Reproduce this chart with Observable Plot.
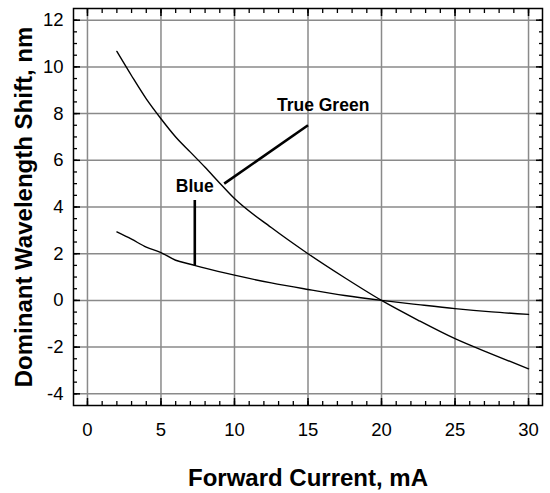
<!DOCTYPE html>
<html>
<head>
<meta charset="utf-8">
<script src="https://cdn.jsdelivr.net/npm/d3@7"></script>
<script src="https://cdn.jsdelivr.net/npm/@observablehq/plot@0.6"></script>
<style>
  html, body { margin: 0; padding: 0; background: #fff; }
  #chart { width: 550px; height: 493px; }
</style>
</head>
<body>
<div id="chart"></div>
<script>
// True Green curve
const greenCurrent = [2, 3, 4, 5, 6, 7, 8, 9, 10, 12.5, 15, 17.5, 20, 22.5, 25, 27.5, 30];
const greenShift   = [10.66, 9.62, 8.63, 7.78, 7.0, 6.35, 5.7, 5.02, 4.36, 3.12, 2.0, 0.97, 0, -0.85, -1.64, -2.3, -2.93];
// Blue curve
const blueCurrent = [2, 3, 4, 5, 6, 7, 8, 10, 12.5, 15, 17.5, 20, 22.5, 25, 27.5, 30];
const blueShift   = [2.93, 2.62, 2.28, 2.05, 1.72, 1.55, 1.38, 1.08, 0.75, 0.47, 0.21, 0, -0.18, -0.35, -0.49, -0.6];

// tick values
const xTicks = [0, 5, 10, 15, 20, 25, 30];
const yTicks = [-4, -2, 0, 2, 4, 6, 8, 10, 12];
const xMinorTicks = d3.range(0, 31, 1);
const yMinorTicks = d3.range(-4, 12.01, 0.5);

// annotations (data coordinates)
const labelNames = ["Blue", "True Green"];
const labelX = [7.3, 16.03];
const labelY = [4.9, 8.34];
const leaderX1 = [7.3, 9.3];
const leaderY1 = [4.3, 5.0];
const leaderX2 = [7.3, 15.0];
const leaderY2 = [1.5, 7.5];

const xTitle = "Forward Current, mA";
const yTitle = "Dominant Wavelength Shift, nm";

const green = greenCurrent.map((x, i) => ({x, y: greenShift[i]}));
const blue = blueCurrent.map((x, i) => ({x, y: blueShift[i]}));
const labels = labelNames.map((t, i) => ({t, x: labelX[i], y: labelY[i]}));
const leaders = leaderX1.map((x1, i) => ({x1, y1: leaderY1[i], x2: leaderX2[i], y2: leaderY2[i]}));

const font = "'Liberation Sans', Arial, Helvetica, sans-serif";
const fmt = d => `${d}`;
const blank = () => "";

const chart = Plot.plot({
  width: 550,
  height: 493,
  marginLeft: 73,
  marginRight: 8,
  marginTop: 8,
  marginBottom: 88,
  x: {domain: [-0.95, 30.95]},
  y: {domain: [-4.5, 12.5]},
  style: {fontFamily: font, background: "#fff", color: "#000"},
  marks: [
    Plot.gridX(xTicks, {stroke: "#8a8a8a", strokeOpacity: 1, strokeWidth: 1.5}),
    Plot.gridY(yTicks, {stroke: "#8a8a8a", strokeOpacity: 1, strokeWidth: 1.5}),
    // tick labels
    Plot.axisX(xTicks, {anchor: "bottom", tickSize: 0, tickPadding: 17, fontSize: 18.5, tickFormat: fmt, label: null}),
    Plot.axisY(yTicks, {anchor: "left", tickSize: 0, tickPadding: 10, fontSize: 18.5, tickFormat: fmt, label: null}),
    // inward major ticks
    Plot.axisX(xTicks, {anchor: "bottom", tickSize: 7, dy: -7, tickFormat: blank, label: null, strokeWidth: 1.5}),
    Plot.axisX(xTicks, {anchor: "top", tickSize: 7, dy: 7, tickFormat: blank, label: null, strokeWidth: 1.5}),
    Plot.axisY(yTicks, {anchor: "left", tickSize: 7, dx: 7, tickFormat: blank, label: null, strokeWidth: 1.5}),
    Plot.axisY(yTicks, {anchor: "right", tickSize: 7, dx: -7, tickFormat: blank, label: null, strokeWidth: 1.5}),
    // inward minor ticks
    Plot.axisX(xMinorTicks, {anchor: "bottom", tickSize: 4, dy: -4, tickFormat: blank, label: null, strokeWidth: 1.3}),
    Plot.axisX(xMinorTicks, {anchor: "top", tickSize: 4, dy: 4, tickFormat: blank, label: null, strokeWidth: 1.3}),
    Plot.axisY(yMinorTicks, {anchor: "left", tickSize: 4, dx: 4, tickFormat: blank, label: null, strokeWidth: 1.3}),
    Plot.axisY(yMinorTicks, {anchor: "right", tickSize: 4, dx: -4, tickFormat: blank, label: null, strokeWidth: 1.3}),
    Plot.frame({stroke: "#000", strokeWidth: 1.5}),
    // curves
    Plot.line(green, {x: "x", y: "y", stroke: "#000", strokeWidth: 1.4, curve: "monotone-x"}),
    Plot.line(blue, {x: "x", y: "y", stroke: "#000", strokeWidth: 1.4, curve: "monotone-x"}),
    // annotations
    Plot.link(leaders, {x1: "x1", y1: "y1", x2: "x2", y2: "y2", stroke: "#000", strokeWidth: 2.6}),
    Plot.text(labels, {x: "x", y: "y", text: "t", fontSize: 17.5, fontWeight: "bold", fill: "#000"}),
    // axis titles
    Plot.text([xTitle], {text: d => d, frameAnchor: "bottom", textAnchor: "middle", lineAnchor: "middle", dy: 73, fontSize: 24, fontWeight: "bold", fill: "#000"}),
    Plot.text([yTitle], {text: d => d, frameAnchor: "left", textAnchor: "middle", lineAnchor: "middle", dx: -49, rotate: -90, fontSize: 24, fontWeight: "bold", fill: "#000"})
  ]
});
document.getElementById("chart").append(chart);
</script>
</body>
</html>
